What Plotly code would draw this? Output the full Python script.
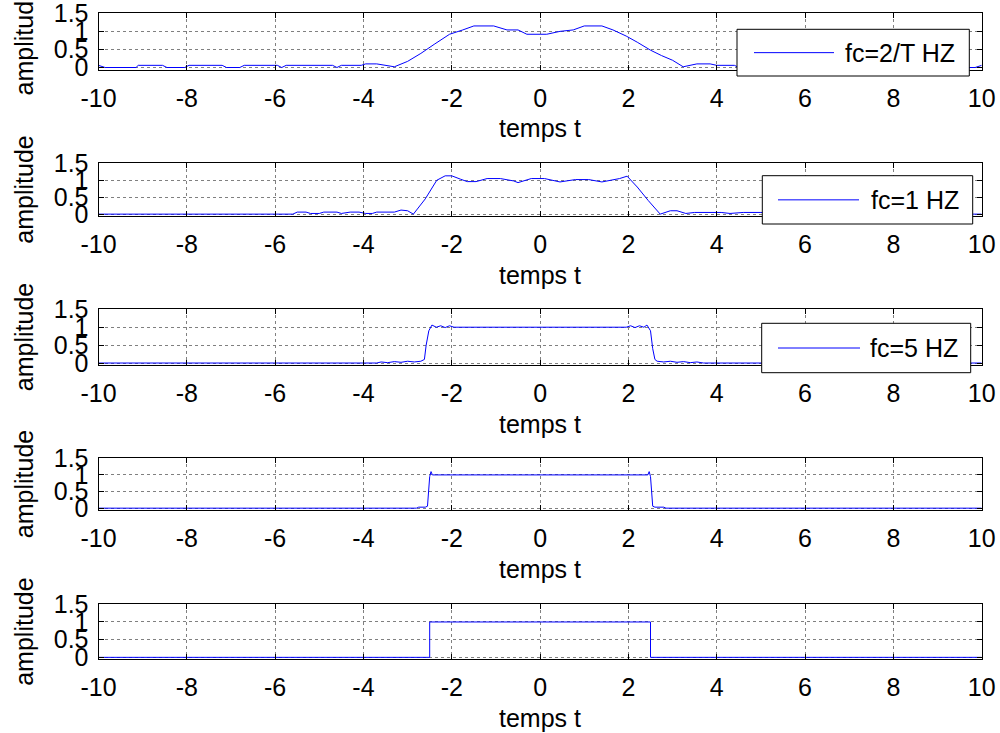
import plotly.graph_objects as go

# ---- data -----------------------------------------------------------------
# fc = 2/T Hz
t1 = [-10, -9.85, -9.15, -9.1, -8.55, -8.45, -8.05, -7.95, -7.2, -7.1, -6.8, -6.7,
      -5.95, -5.85, -5.75, -4.7, -4.6, -4.5, -4.05, -3.95, -3.7, -3.5, -3.3, -3.0,
      -2.7, -2.4, -2.05, -1.75, -1.5, -1.05, -0.75, -0.5, -0.3, 0.0, 0.15, 0.45,
      0.75, 1.0, 1.4, 1.65, 1.95, 2.2, 2.5, 2.75, 3.0, 3.24, 3.55, 3.85, 4.0, 4.4,
      4.5, 4.6, 5.75, 5.85, 5.95, 6.7, 6.8, 7.1, 7.2, 7.95, 8.05, 8.45, 8.55, 9.1,
      9.15, 9.85, 10]
a1 = [0.06, 0.0, 0.0, 0.06, 0.06, 0.0, 0.0, 0.06, 0.06, 0.0, 0.0, 0.06,
      0.06, 0.0, 0.06, 0.06, 0.0, 0.06, 0.06, 0.1, 0.1, 0.06, 0.02, 0.17,
      0.39, 0.64, 0.92, 1.04, 1.15, 1.15, 1.04, 1.04, 0.92, 0.92, 0.92, 1.0,
      1.04, 1.15, 1.15, 1.04, 0.87, 0.7, 0.48, 0.33, 0.2, 0.02, 0.1, 0.1, 0.06, 0.06,
      0.0, 0.06, 0.06, 0.0, 0.06, 0.06, 0.0, 0.0, 0.06, 0.06, 0.0, 0.0, 0.06, 0.06,
      0.0, 0.0, 0.06]

# fc = 1 Hz
t2 = [-10, -5.6, -5.5, -5.3, -5.2, -5.0, -4.9, -4.6, -4.5, -4.3, -4.1, -3.95,
      -3.8, -3.7, -3.3, -3.15, -3.0, -2.87, -2.6, -2.34, -2.15, -2.0, -1.8, -1.65,
      -1.45, -1.2, -0.9, -0.6, -0.5, -0.2, 0.1, 0.45, 0.8, 1.1, 1.4, 1.8, 1.97,
      2.2, 2.45, 2.72, 2.95, 3.1, 3.3, 3.5, 4.1, 4.3, 4.6, 5.0, 5.5, 6.0, 7.0,
      8.0, 9.5, 10]
a2 = [0.0, 0.0, 0.06, 0.06, 0.02, 0.02, 0.06, 0.06, 0.02, 0.06, 0.06, 0.02,
      0.02, 0.06, 0.06, 0.12, 0.1, 0.0, 0.45, 1.0, 1.13, 1.13, 1.03, 0.96,
      0.96, 1.05, 1.05, 0.98, 0.93, 1.05, 1.05, 0.95, 1.02, 1.02, 0.95, 1.05, 1.12,
      0.8, 0.4, 0.0, 0.1, 0.1, 0.02, 0.05, 0.05, 0.02, 0.05, 0.05, 0.02, 0.05, 0.02,
      0.04, 0.0, 0.0]

# fc = 5 Hz
t3 = [-10, -3.7, -3.6, -3.45, -3.3, -3.15, -3.0, -2.85, -2.7, -2.62, -2.58, -2.52,
      -2.45, -2.35, -2.25, -2.15, -2.05, -1.95, 1.95, 2.05, 2.15, 2.25, 2.35, 2.42,
      2.5, 2.55, 2.6, 2.65, 2.8, 2.95, 3.1, 3.25, 3.4, 3.55, 3.7, 10]
a3 = [0.0, 0.0, 0.03, 0.01, 0.04, 0.02, 0.05, 0.03, 0.05, 0.1, 0.5, 0.9,
      1.06, 1.0, 1.04, 0.99, 1.04, 1.0, 1.0, 1.04, 0.99, 1.04, 1.0, 1.06,
      0.9, 0.4, 0.1, 0.05, 0.03, 0.05, 0.02, 0.04, 0.01, 0.03, 0.0, 0.0]

# higher cut-off
t4 = [-10, -2.8, -2.75, -2.6, -2.55, -2.52, -2.5, -2.47, -2.44, 2.44, 2.47, 2.5,
      2.52, 2.55, 2.6, 2.8, 2.85, 10]
a4 = [0.0, 0.0, 0.03, 0.03, 0.06, 0.5, 0.95, 1.1, 1.0, 1.0, 1.1, 0.95,
      0.5, 0.06, 0.03, 0.03, 0.0, 0.0]

# original rectangular pulse
t5 = [-10, -2.5, -2.5, 2.5, 2.5, 10]
a5 = [0.0, 0.0, 1.0, 1.0, 0.0, 0.0]

series_t = [t1, t2, t3, t4, t5]
series_a = [a1, a2, a3, a4, a5]
legend_labels = ["fc=2/T HZ", "fc=1 HZ", "fc=5 HZ"]

x_ticks = [-10, -8, -6, -4, -2, 0, 2, 4, 6, 8, 10]
y_ticks = [0, 0.5, 1, 1.5]
y_tick_text = ["0", "0.5", "1", "1.5"]
x_label = "temps t"
y_label = "amplitude"

# ---- layout helpers ---------------------------------------------------------
W, H = 1000, 733
FONT = "Liberation Sans, Arial, sans-serif"
FS = 25
BLUE = "#0000ff"


def px_x(p):
    return p / W


def px_y(p):
    return 1 - p / H


# panel frames in pixels (top, bottom)
panels = [(13.3, 69.5), (163.3, 216.0), (309.3, 365.0), (458.3, 510.0), (604.3, 659.3)]
x_dom = [px_x(98.5), px_x(981.7)]

# legend boxes: (left, right, top, bottom, sample x0, sample x1, text x)
legend_boxes = [
    (737, 969.3, 29.3, 76.0, 754, 834, 843),
    (762.3, 972.7, 175.7, 224.0, 778, 859, 869),
    (761.7, 970.7, 323.3, 372.7, 778, 860, 868),
]

fig = go.Figure()
layout = dict(
    width=W, height=H,
    margin=dict(l=0, r=0, t=0, b=0, autoexpand=False),
    paper_bgcolor="white", plot_bgcolor="white",
    showlegend=False,
    font=dict(family=FONT, size=FS, color="black"),
)

annotations = []
shapes = []

for k in range(5):
    n = "" if k == 0 else str(k + 1)
    top, bot = panels[k]
    fig.add_trace(go.Scatter(
        x=series_t[k], y=series_a[k], mode="lines",
        line=dict(color=BLUE, width=1),
        xaxis="x" + n, yaxis="y" + n,
        name=legend_labels[k] if k < 3 else "signal",
    ))
    layout["xaxis" + n] = dict(
        domain=x_dom, anchor="y" + n, range=[-10, 10], automargin=False,
        tickvals=x_ticks, ticktext=[str(v) for v in x_ticks],
        ticks="inside", ticklen=5, tickcolor="black", tickwidth=1,
        showline=True, linecolor="black", linewidth=1, mirror="ticks",
        showgrid=True, gridcolor="#808080", griddash="dot", gridwidth=1,
        zeroline=False, ticklabelstandoff=6, ticklabeloverflow="allow",
        tickfont=dict(family=FONT, size=FS, color="black"),
    )
    layout["yaxis" + n] = dict(
        domain=[px_y(bot), px_y(top)], anchor="x" + n, range=[-0.055, 1.5],
        automargin=False,
        tickvals=y_ticks, ticktext=y_tick_text,
        ticks="inside", ticklen=5, tickcolor="black", tickwidth=1,
        showline=True, linecolor="black", linewidth=1, mirror="ticks",
        showgrid=True, gridcolor="#808080", griddash="dot", gridwidth=1,
        zeroline=False, ticklabelstandoff=4, ticklabeloverflow="allow",
        tickfont=dict(family=FONT, size=FS, color="black"),
    )
    annotations.append(dict(
        text=y_label, textangle=-90, xref="paper", yref="paper",
        x=px_x(24), y=px_y((top + bot) / 2), xanchor="center", yanchor="middle",
        showarrow=False, font=dict(family=FONT, size=FS, color="black"),
    ))
    annotations.append(dict(
        text=x_label, xref="paper", yref="paper",
        x=px_x(540), y=px_y(bot + 59), xanchor="center", yanchor="middle",
        showarrow=False, font=dict(family=FONT, size=FS, color="black"),
    ))

for k, (l, r, t, b, s0, s1, tx) in enumerate(legend_boxes):
    mid = (t + b) / 2
    shapes.append(dict(
        type="rect", xref="paper", yref="paper", layer="above",
        x0=px_x(l), x1=px_x(r), y0=px_y(b), y1=px_y(t),
        fillcolor="white", line=dict(color="black", width=1),
    ))
    shapes.append(dict(
        type="line", xref="paper", yref="paper", layer="above",
        x0=px_x(s0), x1=px_x(s1), y0=px_y(mid), y1=px_y(mid),
        line=dict(color=BLUE, width=1),
    ))
    annotations.append(dict(
        text=legend_labels[k], xref="paper", yref="paper",
        x=px_x(tx), y=px_y(mid), xanchor="left", yanchor="middle",
        showarrow=False, font=dict(family=FONT, size=FS, color="black"),
    ))

layout["annotations"] = annotations
layout["shapes"] = shapes
fig.update_layout(**layout)
fig.write_html("out.html")
